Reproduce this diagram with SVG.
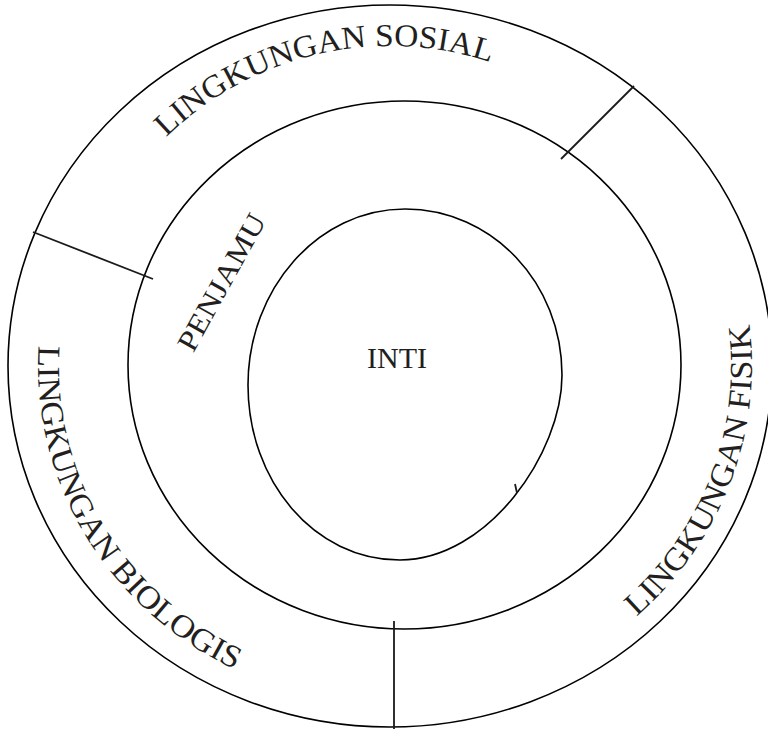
<svg xmlns="http://www.w3.org/2000/svg" width="768" height="729" viewBox="0 0 768 729">
<style>
.ring{fill:none;stroke:#000;stroke-width:1.6}
.div{stroke:#1a1a1a;stroke-width:1.8;fill:none}
.lbl{font-family:"Liberation Serif","Times New Roman",serif;fill:#231f20}
</style>
<defs>
<path id="pSosial" d="M 89.3 256.6 A 320 320 0 0 1 690.7 256.6"/>
<path id="pFisik" d="M 571 662.2 A 362 342 0 0 0 667.3 146.2"/>
<path id="pBio" d="M 59.2 250.4 A 352 338 0 0 0 328.9 698.9"/>
</defs>
<g id="lingkungan">
<ellipse class="ring" cx="390" cy="366" rx="382" ry="361"/>
</g>
<g id="penjamu">
<ellipse class="ring" cx="404.5" cy="365" rx="276.5" ry="264"/>
<text class="lbl" font-size="29" transform="translate(230,287) rotate(-61)" text-anchor="middle" textLength="152" lengthAdjust="spacingAndGlyphs">PENJAMU</text>
</g>
<g id="inti">
<path class="ring" d="M 405 209 C 492 209 562 283 562 375 C 562 453 488 560 400 560 C 314 560 248 481 248 385 C 248 289 318 209 405 209 Z"/>
<text class="lbl" x="397" y="368" font-size="30" text-anchor="middle">INTI</text>
</g>
<g id="connectors">
<line class="div" x1="515" y1="484" x2="517" y2="493" stroke-width="1.3"/>
<line class="div" x1="33" y1="232" x2="153" y2="279"/>
<line class="div" x1="634" y1="86" x2="561" y2="159"/>
<line class="div" x1="394" y1="621" x2="394" y2="729"/>
</g>
<g id="sosial">
<text class="lbl" font-size="32"><textPath href="#pSosial" startOffset="143" textLength="350" lengthAdjust="spacingAndGlyphs">LINGKUNGAN SOSIAL</textPath></text>
</g>
<g id="fisik">
<text class="lbl" font-size="32"><textPath href="#pFisik" startOffset="80" textLength="326" lengthAdjust="spacingAndGlyphs">LINGKUNGAN FISIK</textPath></text>
</g>
<g id="biologis">
<text class="lbl" font-size="32"><textPath href="#pBio" startOffset="98" textLength="402" lengthAdjust="spacingAndGlyphs">LINGKUNGAN BIOLOGIS</textPath></text>
</g>
</svg>
